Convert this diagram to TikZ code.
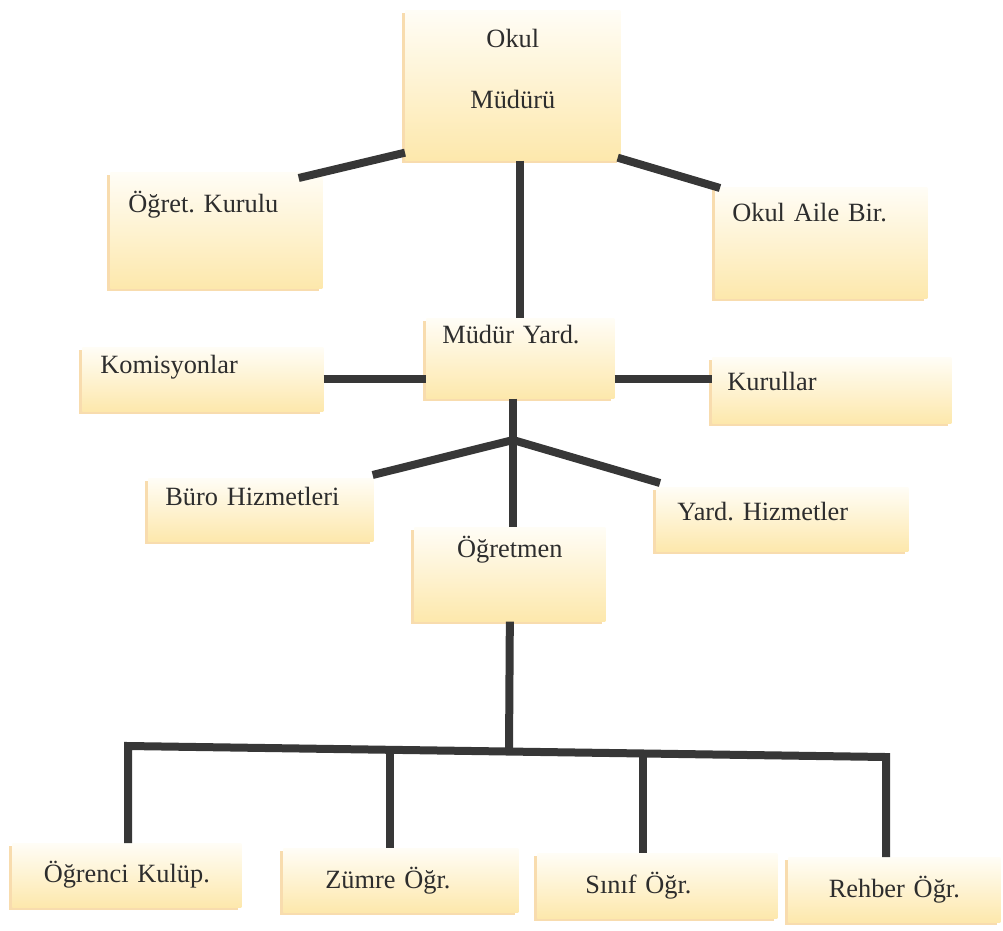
\documentclass[tikz,border=0pt]{standalone}
\usepackage{fontspec}
\setmainfont{Liberation Serif}
\usetikzlibrary{shadows,calc}
\frenchspacing
\definecolor{linegray}{RGB}{55,55,55}
\definecolor{boxtop}{RGB}{255,253,246}
\definecolor{boxbot}{RGB}{253,232,172}
\definecolor{boxshadow}{RGB}{244,196,120}
\definecolor{boxtext}{RGB}{45,45,45}
\tikzset{
  box/.style={anchor=north west, inner ysep=0pt, draw=none, top color=boxtop, bottom color=boxbot,
    text=boxtext, font=\fontsize{15}{18}\selectfont,
    drop shadow={shadow xshift=-0.06cm, shadow yshift=-0.06cm, fill=boxshadow, opacity=0.6}},
  link/.style={draw=linegray, line width=0.16cm, line join=miter}
}
\begin{document}
\begin{tikzpicture}[x=0.02cm, y=-0.02cm]
\useasboundingbox (0,0) rectangle (1003,930);
% top level
\node[box, align=center, inner xsep=0pt, text width=4.30cm, text height=0.74cm, text depth=2.26cm] (mudur) at (405,10) {Okul\\[0.585cm]Müdürü};
\node[box, align=left, inner xsep=0.36cm, text width=3.52cm, text height=0.80cm, text depth=1.52cm] (ogret) at (110,172) {Öğret. Kurulu};
\node[box, align=left, inner xsep=0.34cm, text width=3.56cm, text height=0.68cm, text depth=1.54cm] (aile) at (715,187) {Okul Aile Bir.};
% second level
\node[box, align=left, inner xsep=0.32cm, text width=3.12cm, text height=0.50cm, text depth=1.10cm] (yard) at (426,318) {Müdür Yard.};
\node[box, align=left, inner xsep=0.36cm, text width=4.10cm, text height=0.52cm, text depth=0.76cm] (komisyon) at (82,347) {Komisyonlar};
\node[box, align=left, inner xsep=0.30cm, text width=4.18cm, text height=0.66cm, text depth=0.66cm] (kurullar) at (712,357) {Kurullar};
\node[box, align=left, inner xsep=0.34cm, text width=3.82cm, text height=0.54cm, text depth=0.72cm] (buro) at (148,478) {Büro Hizmetleri};
\node[box, align=left, inner xsep=0.42cm, text width=4.20cm, text height=0.66cm, text depth=0.62cm] (yhiz) at (656,487) {Yard. Hizmetler};
\node[box, align=center, inner xsep=0pt, text width=3.82cm, text height=0.60cm, text depth=1.28cm] (ogretmen) at (414,527) {Öğretmen};
% bottom row
\node[box, align=center, inner xsep=0pt, text width=4.58cm, text height=0.78cm, text depth=0.50cm] (ogrenci) at (12,843) {Öğrenci Kulüp.};
\node[box, align=left, inner xsep=0.84cm, text width=3.02cm, text height=0.80cm, text depth=0.48cm] (zumre) at (283,848) {Zümre Öğr.};
\node[box, align=left, inner xsep=0.96cm, text width=2.88cm, text height=0.80cm, text depth=0.50cm] (sinif) at (537,853) {Sınıf Öğr.};
\node[box, align=center, inner xsep=0pt, text width=4.24cm, text height=0.80cm, text depth=0.50cm] (rehber) at (788,857) {Rehber Öğr.};
% connectors
\draw[link] ([yshift=0.16cm]mudur.south west) -- ([xshift=-0.48cm,yshift=-0.12cm]ogret.north east);
\draw[link] ([xshift=-0.06cm,yshift=0.06cm]mudur.south east) -- ([xshift=0.1cm,yshift=-0.02cm]aile.north west);
\draw[link] (yard.north |- mudur.south) -- (yard.north);
\draw[link] (komisyon.east) -- (komisyon.east -| yard.west);
\draw[link] (komisyon.east -| yard.east) -- (komisyon.east -| kurullar.west);
\coordinate (hub) at (513,440);
\draw[link] (yard.south -| hub) -- (hub |- ogretmen.north);
\draw[link] ([xshift=-0.02cm,yshift=0.06cm]buro.north east) -- (hub) -- ([xshift=0.08cm,yshift=0.08cm]yhiz.north west);
\coordinate (b1) at (128,746);
\coordinate (b2) at (390,750);
\coordinate (bmid) at (509,751.5);
\coordinate (b3) at (643,753.5);
\coordinate (b4) at (886,757);
\draw[link] (ogretmen.south) -- (bmid);
\draw[link] (b1 |- ogrenci.north) -- (b1) -- (b4) -- (b4 |- rehber.north);
\draw[link] (b2) -- (b2 |- zumre.north);
\draw[link] (b3) -- (b3 |- sinif.north);
\end{tikzpicture}
\end{document}
